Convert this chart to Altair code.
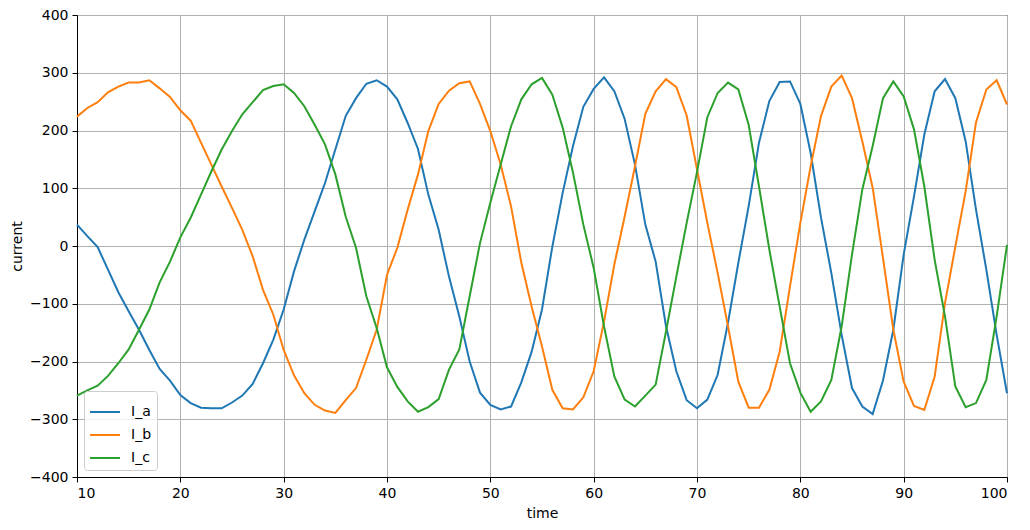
import pandas as pd
import altair as alt

# sample times
time = list(range(10, 101))

# three phase currents
I_a = [37, 17, -2, -41, -80, -113, -145, -180, -213, -233,
       -258, -272, -280, -281, -281, -271, -259, -239, -203, -162,
       -110, -44, 11, 60, 109, 167, 225, 256, 281, 287,
       276, 254, 213, 168, 89, 28, -53, -122, -200, -254,
       -275, -283, -278, -236, -183, -110, -1, 92, 173, 241,
       272, 292, 268, 220, 141, 37, -27, -139, -217, -267,
       -281, -266, -223, -133, -29, 69, 179, 251, 284, 285,
       246, 161, 49, -47, -154, -246, -278, -291, -233, -145,
       -15, 86, 193, 268, 289, 256, 181, 63, -41, -154,
       -255]

I_b = [224, 239, 249, 266, 276, 283, 283, 287, 273, 258,
       235, 217, 179, 141, 103, 66, 28, -18, -76, -119,
       -180, -224, -255, -275, -285, -289, -267, -246, -197, -145,
       -50, -3, 63, 124, 199, 246, 269, 282, 285, 246,
       199, 141, 69, -29, -105, -174, -249, -281, -283, -262,
       -217, -131, -32, 51, 138, 229, 268, 289, 275, 226,
       133, 40, -47, -139, -235, -280, -280, -249, -183, -70,
       40, 138, 225, 276, 295, 256, 181, 101, -21, -145,
       -235, -277, -284, -226, -99, -1, 95, 214, 271, 287,
       245]

I_c = [-259, -250, -242, -225, -203, -179, -145, -110, -63, -27,
       15, 49, 89, 129, 167, 199, 228, 249, 270, 277,
       280, 265, 242, 210, 176, 124, 51, -3, -87, -142,
       -210, -244, -269, -287, -279, -265, -214, -179, -87, 5,
       75, 141, 207, 254, 280, 291, 262, 205, 127, 37,
       -38, -139, -226, -266, -278, -259, -240, -148, -53, 40,
       128, 223, 265, 283, 271, 210, 103, -6, -105, -203,
       -254, -287, -269, -232, -139, -15, 98, 173, 256, 285,
       259, 202, 103, -24, -122, -243, -279, -272, -232, -122,
       2]

series = ['I_a', 'I_b', 'I_c']
palette = ['#1f77b4', '#ff7f0e', '#2ca02c']  # matplotlib tab10

x_ticks = list(range(10, 101, 10))
y_ticks = list(range(-400, 401, 100))

# long form table
df = pd.concat([
    pd.DataFrame({'time': time, 'current': vals, 'phase': name})
    for name, vals in zip(series, [I_a, I_b, I_c])
])

font = 'DejaVu Sans'

chart = alt.Chart(df).mark_line(strokeWidth=2).encode(
    x=alt.X('time:Q',
            scale=alt.Scale(domain=[10, 100], nice=False, zero=False),
            axis=alt.Axis(title='time', values=x_ticks)),
    y=alt.Y('current:Q',
            scale=alt.Scale(domain=[-400, 400], nice=False),
            axis=alt.Axis(title='current', values=y_ticks)),
    color=alt.Color('phase:N',
                    scale=alt.Scale(domain=series, range=palette),
                    legend=alt.Legend(title=None, orient='bottom-left', offset=7,
                                      symbolType='stroke', symbolSize=900,
                                      symbolStrokeWidth=2, labelFontSize=14,
                                      labelFont=font, labelColor='black',
                                      labelOffset=10, rowPadding=-9,
                                      padding=5, fillColor='rgba(255,255,255,0.8)',
                                      strokeColor='#cccccc', cornerRadius=3)),
    order='time:Q'
).properties(
    width=930,
    height=462,
    autosize=alt.AutoSizeParams(type='none'),
    padding={'left': 69, 'top': 7, 'right': 15, 'bottom': 45}
).configure_axis(
    domainColor='black',
    tickColor='black',
    tickSize=5,
    labelFont=font,
    labelFontSize=14,
    labelColor='black',
    labelPadding=4,
    titleFont=font,
    titleFontSize=14,
    titleFontWeight='normal',
    titleColor='black',
    gridColor='#b0b0b0',
    gridWidth=1
).configure_axisX(
    titlePadding=6
).configure_axisY(
    titlePadding=5
).configure_view(
    stroke='black',
    strokeWidth=1
)

chart.save('out.html', embed_options={'renderer': 'svg', 'actions': False})
